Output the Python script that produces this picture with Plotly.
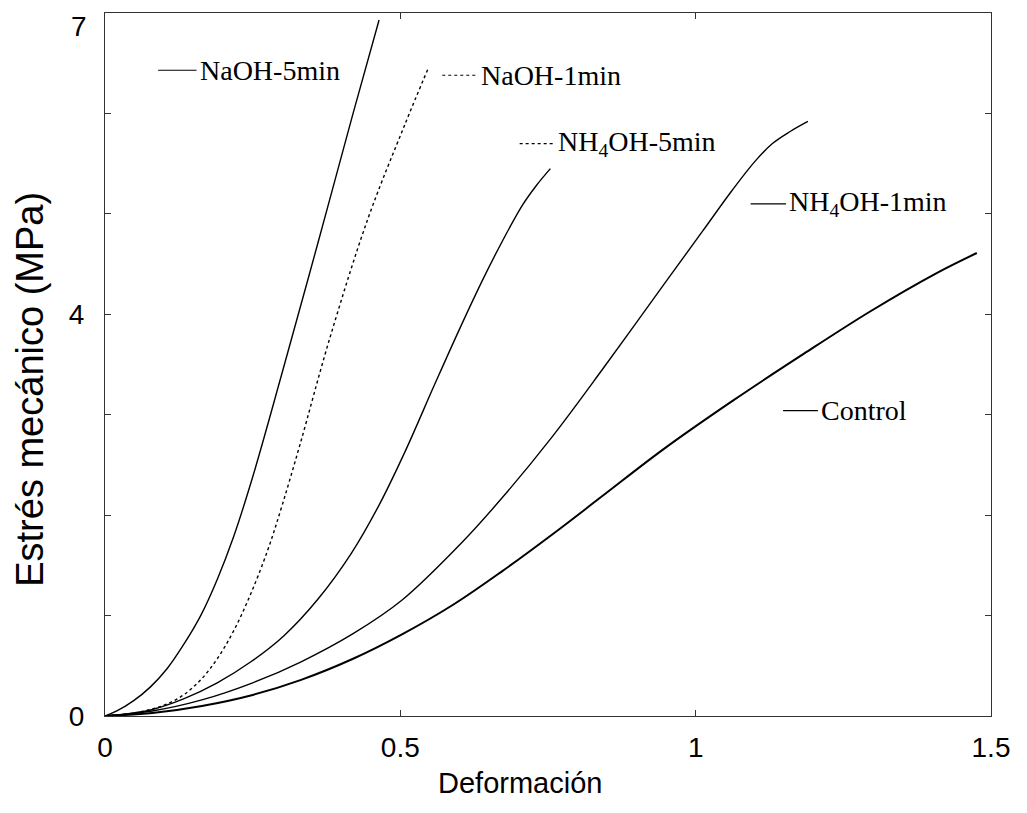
import plotly.graph_objects as go

# ---- data ----
naoh5_x = [0, 0.02, 0.048, 0.077, 0.105, 0.133, 0.162, 0.19, 0.218, 0.25, 0.30, 0.36, 0.42, 0.464]
naoh5_y = [0, 0.05, 0.15, 0.29, 0.47, 0.71, 1.00, 1.36, 1.79, 2.38, 3.42, 4.70, 6.00, 6.93]

naoh1_x = [0, 0.05, 0.08, 0.105, 0.133, 0.162, 0.19, 0.218, 0.247, 0.276, 0.30, 0.33, 0.38, 0.445, 0.507, 0.548]
naoh1_y = [0, 0.03, 0.07, 0.12, 0.21, 0.36, 0.57, 0.85, 1.22, 1.66, 2.10, 2.70, 3.75, 4.95, 5.88, 6.46]

nh5_x = [0, 0.02, 0.077, 0.133, 0.19, 0.247, 0.303, 0.36, 0.417, 0.464, 0.507, 0.558, 0.60, 0.64, 0.672, 0.706, 0.73, 0.754]
nh5_y = [0, 0.01, 0.06, 0.17, 0.33, 0.54, 0.80, 1.16, 1.62, 2.10, 2.62, 3.30, 3.85, 4.35, 4.72, 5.08, 5.28, 5.45]

nh1_x = [0, 0.08, 0.164, 0.25, 0.332, 0.42, 0.502, 0.603, 0.672, 0.757, 0.842, 0.949, 1.012, 1.06, 1.10, 1.13, 1.16, 1.19]
nh1_y = [0, 0.05, 0.16, 0.33, 0.54, 0.82, 1.15, 1.72, 2.17, 2.78, 3.45, 4.32, 4.83, 5.22, 5.52, 5.70, 5.82, 5.92]

ctrl_x = [0, 0.08, 0.164, 0.25, 0.332, 0.42, 0.502, 0.59, 0.672, 0.76, 0.842, 0.944, 1.063, 1.184, 1.296, 1.408, 1.476]
ctrl_y = [0, 0.03, 0.10, 0.21, 0.36, 0.57, 0.81, 1.11, 1.44, 1.82, 2.19, 2.65, 3.14, 3.61, 4.03, 4.41, 4.61]

series_names = ["NaOH-5min", "NaOH-1min", "NH<sub>4</sub>OH-5min", "NH<sub>4</sub>OH-1min", "Control"]
series_x = [naoh5_x, naoh1_x, nh5_x, nh1_x, ctrl_x]
series_y = [naoh5_y, naoh1_y, nh5_y, nh1_y, ctrl_y]

x_tick_vals = [0, 0.5, 1, 1.5]
x_tick_text = ["0", "0.5", "1", "1.5"]
y_tick_vals = [0, 1, 2, 3, 4, 5, 6, 7]
y_tick_text = ["0", "", "", "", "4", "", "", ""]
y_top_label = "7"   # top tick label, placed just below the top edge as in the reference

# ---- styles / label placement ----
curve_dash = ["solid", "dot", "solid", "solid", "solid"]
curve_width = [1.4, 1.4, 1.4, 1.4, 2.0]
label_dash = ["solid", "dot", "dot", "solid", "solid"]
# (segment start x, segment end x, y) in data units
label_pos = [(0.090, 0.155, 6.43), (0.571, 0.631, 6.38), (0.702, 0.762, 5.70),
             (1.093, 1.153, 5.10), (1.148, 1.207, 3.04)]

fig = go.Figure()
for name, xs, ys, dash, w in zip(series_names, series_x, series_y, curve_dash, curve_width):
    fig.add_trace(go.Scatter(x=xs, y=ys, mode="lines", name=name,
                             line=dict(color="black", width=w, dash=dash, shape="spline", smoothing=1.0),
                             showlegend=False, hoverinfo="skip"))

annotations = []
for name, (x0, x1, yy), dash in zip(series_names, label_pos, label_dash):
    fig.add_trace(go.Scatter(x=[x0, x1], y=[yy, yy], mode="lines",
                             line=dict(color="black", width=1.2, dash=dash),
                             showlegend=False, hoverinfo="skip"))
    annotations.append(dict(x=x1, y=yy, xref="x", yref="y", text=name, showarrow=False,
                            xanchor="left", yanchor="middle", xshift=1,
                            font=dict(family="Liberation Serif, Times New Roman, serif", size=28, color="black")))

tick_font = dict(family="Liberation Sans, Arial, sans-serif", size=28, color="black")

annotations.append(dict(x=0, y=7, xref="paper", yref="y", text=y_top_label, showarrow=False,
                        xanchor="right", yanchor="top", xshift=-16, yshift=4, font=tick_font))
annotations.append(dict(x=0.468, y=-0.095, xref="paper", yref="paper", text="Deformación",
                        showarrow=False, xanchor="center", yanchor="middle",
                        font=dict(family="Liberation Sans, Arial, sans-serif", size=29, color="black")))
annotations.append(dict(x=-0.085, y=0.465, xref="paper", yref="paper", text="Estrés mecánico (MPa)",
                        showarrow=False, xanchor="center", yanchor="middle", textangle=-90,
                        font=dict(family="Liberation Sans, Arial, sans-serif", size=38, color="black")))

fig.update_layout(
    width=1027, height=813,
    margin=dict(l=105, r=36, t=13, b=97),
    paper_bgcolor="white", plot_bgcolor="white",
    annotations=annotations,
    xaxis=dict(range=[0, 1.5], tickvals=x_tick_vals, ticktext=x_tick_text,
               ticks="inside", ticklen=6, tickcolor="#333", showgrid=False, zeroline=False,
               showline=True, linecolor="#333", linewidth=1, mirror="ticks", automargin=False,
               tickfont=tick_font, ticklabelstandoff=6, ticklabeloverflow="allow"),
    yaxis=dict(range=[0, 7], tickvals=y_tick_vals, ticktext=y_tick_text,
               ticks="inside", ticklen=6, tickcolor="#333", showgrid=False, zeroline=False,
               showline=True, linecolor="#333", linewidth=1, mirror="ticks", automargin=False,
               tickfont=tick_font, ticklabelstandoff=14, ticklabeloverflow="allow"),
)

fig.write_html("out.html")
